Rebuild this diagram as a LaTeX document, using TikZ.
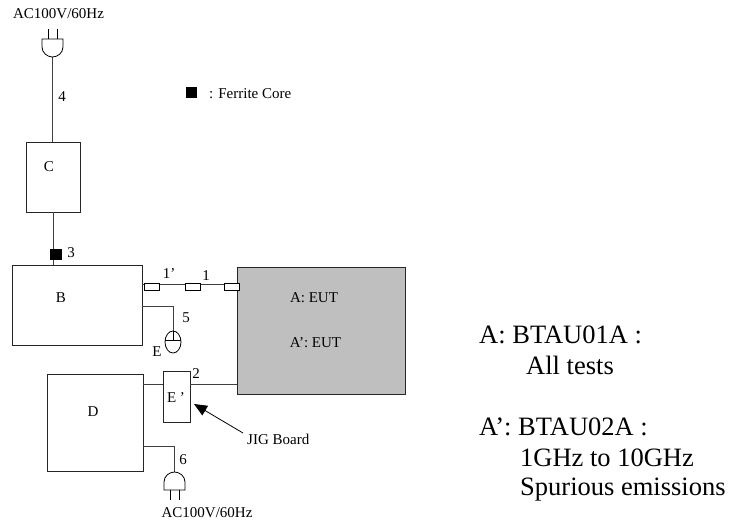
\documentclass[tikz,border=0pt]{standalone}
\usepackage{fontspec}
\setmainfont{Liberation Serif}
\usetikzlibrary{arrows.meta,positioning}
\definecolor{eutgray}{HTML}{BFBFBF}
\tikzset{
      unitbox/.style={
        draw=black!85,
        line width=0.9pt,
        fill=white,
        outer sep=0pt,
        inner sep=0pt
      },
      corebox/.style={
        draw=black,
        line width=0.8pt,
        fill=white,
        outer sep=0pt,
        minimum width=15pt,
        minimum height=7pt,
        inner sep=0pt
      },
      coremark/.style={
        fill=black,
        outer sep=0pt,
        minimum width=11.5pt,
        minimum height=11.5pt,
        inner sep=0pt
      },
      tag/.style={
        inner sep=0pt,
        font=\fontsize{15}{17}\selectfont
      },
      note/.style={
        anchor=base west,
        inner sep=0pt,
        font=\fontsize{26.5}{30}\selectfont
      },
      wire/.style={line width=0.9pt, color=black!75},
      pics/plug/.style={
        code={
          \draw[line width=0.8pt] (-10.5,-18) -- (10.5,-18) -- (10.5,-10) .. controls (10.5,-4) and (5,0) .. (0,0) .. controls (-5,0) and (-10.5,-4) .. (-10.5,-10) -- cycle;
          \draw[line width=0.8pt] (-4.5,-18) -- (-4.5,-28);
          \draw[line width=0.8pt] (4.5,-18) -- (4.5,-28);
        }
      }
    }
\begin{document}
\begin{tikzpicture}[x=1pt,y=-1pt]
    \useasboundingbox (0,0) rectangle (732,522);
    \node[unitbox, minimum width=54pt, minimum height=70pt] (unitC) at (53,177) {};
    \node[unitbox, minimum width=130pt, minimum height=80pt] (unitB) at (77,305) {};
    \node[unitbox, fill=eutgray, minimum width=168pt, minimum height=127pt] (eut) at (321,330.5) {};
    \node[unitbox, minimum width=96pt, minimum height=97pt] (unitD) at (95,422.5) {};
    \node[unitbox, minimum width=27pt, minimum height=51pt] (jig) at (176.5,396.5) {};
    \node[tag] (labelC) at (49,167) {C};
    \node[tag] (labelB) at (61,298) {B};
    \node[tag] (labelD) at (93,412) {D};
    \node[tag] (labelJ) at (176,398) {E ’};
    \node[tag] (labelA) at (314,298) {A: EUT};
    \node[tag] (labelAp) at (315.5,343) {A’: EUT};

    \coordinate (plugT) at (52.5,57);
    \coordinate (plugL) at (174.5,472);
    \coordinate (cableB) at (142,284);
    \coordinate (cableA) at (237,284);
    \coordinate (mouseB) at (142,306);
    \coordinate (powerD) at (143,446);
    \coordinate (jigtail) at (243,433);
    \coordinate (jigtip) at (194,404);
    \node[minimum width=16pt, minimum height=22pt, inner sep=0pt, outer sep=0pt] (mouse) at (173,342) {};

    \draw[wire] (plugT) -- (plugT |- unitC.north);
    \draw[wire] (unitC.south) -- (unitB.north -| unitC.south);
    \draw[wire] (cableB) -- (cableA);
    \draw[wire] (mouseB) -| (mouse.north);
    \draw[wire] (jig.west |- 0,384) -- (unitD.east |- 0,384);
    \draw[wire] (jig.east |- 0,384) -- (eut.west |- 0,384);
    \draw[wire] (powerD) -| (plugL);

    \pic at (plugT) {plug};
    \pic[rotate=180] at (plugL) {plug};
    \draw[line width=0.8pt] (mouse.center) ellipse (8 and 11);
    \draw[line width=0.8pt] (mouse.west |- 0,340) -- (mouse.east |- 0,340);
    \draw[line width=0.8pt] (mouse.north) -- (mouse.north |- 0,340);

    \node[corebox] (core1) at (151.5,286.5) {};
    \node[corebox] (core2) at (193,286.5) {};
    \node[corebox] (core3) at (231.5,286.5) {};
    \node[coremark] (core4) at (56,254.5) {};
    \node[coremark] (legend) at (191.5,92.5) {};
    \node[tag, anchor=base west] (legendtxt) at (209,98) {: Ferrite Core};

    \node[tag] (plugtxtT) at (58.5,14) {AC100V/60Hz};
    \node[tag] (plugtxtL) at (207,513) {AC100V/60Hz};
    \node[tag] (cable4) at (62,97) {4};
    \node[tag] (cable3) at (71,253) {3};
    \node[tag] (cable1p) at (169,274) {1’};
    \node[tag] (cable1) at (206,276) {1};
    \node[tag] (cable5) at (186,318) {5};
    \node[tag] (mousetxt) at (157,352) {E};
    \node[tag] (cable2) at (196,374) {2};
    \node[tag] (cable6) at (183,460) {6};

    \node[tag, anchor=base west] (jigtxt) at (247,444) {JIG Board};
    \draw[-{Triangle[length=13pt,width=11pt]}, line width=0.8pt] (jigtail) -- (jigtip);

    \node[note] (noteA) at (479,343) {A: BTAU01A :};
    \node[note] (noteA1) at (526,374) {All tests};
    \node[note] (noteB) at (479,435) {A’: BTAU02A :};
    \node[note] (noteB1) at (520,466) {1GHz to 10GHz};
    \node[note] (noteB2) at (520,495) {Spurious emissions};
    \end{tikzpicture}
\end{document}
